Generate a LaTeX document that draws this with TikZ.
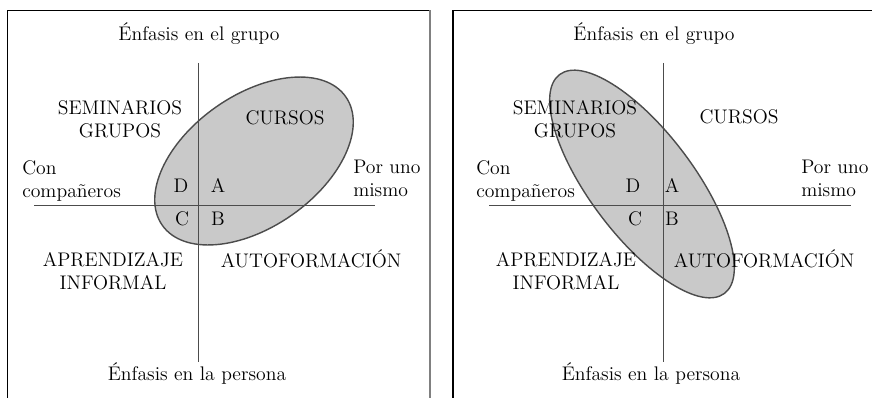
\documentclass[tikz,border=0pt]{standalone}
\usepackage{fontspec}
\usetikzlibrary{positioning}
\definecolor{ejes}{gray}{0.3}
\definecolor{relleno}{gray}{0.79}

\begin{document}
\begin{tikzpicture}[x=0.25mm,y=-0.25mm,
        every node/.style={font=\fontsize{14}{16.4}\selectfont, inner sep=0pt, text=black},
        eje/.style={draw=ejes, line width=0.7pt},
        zona/.style={draw=ejes, fill=relleno, line width=1pt}]
        \useasboundingbox (0,0) rectangle (872,398);
        % marcos
        \draw[line width=0.8pt] (7.5,398) -- (7.5,10.5) -- (430,10.5);
        \draw[gray, line width=1.4pt] (430,10.5) -- (430,398);
        \draw[line width=0.8pt] (453,398) -- (453,10.5) -- (872,10.5);

        % primer cuadro
        \draw[zona] (254,161) ellipse [x radius=112, y radius=66, rotate=35];
        \coordinate (norte1) at (198,63);  \coordinate (sur1) at (198,362);
        \coordinate (oeste1) at (34,205);  \coordinate (este1) at (375,205);
        \draw[eje] (norte1) -- (sur1);
        \draw[eje] (oeste1) -- (este1);
        \node[anchor=base] (grupo1) at (199,41) {Énfasis en el grupo};
        \node[align=center] (semi1) at (120,119) {SEMINARIOS\\GRUPOS};
        \node (cursos1) at (285,118) {CURSOS};
        \node[align=left, anchor=west] (con1) at (22,181) {Con\\compañeros};
        \node[align=left, anchor=west] (por1) at (353,178) {Por uno\\mismo};
        \node[anchor=base] (d1) at (181,192) {D};
        \node[anchor=base] (a1) at (218,192) {A};
        \node[anchor=base] (c1) at (182,225) {C};
        \node[anchor=base] (b1) at (218,225) {B};
        \node[align=center] (apre1) at (113,271) {APRENDIZAJE\\INFORMAL};
        \node[anchor=base] (auto1) at (311,267) {AUTOFORMACIÓN};
        \node[anchor=base] (persona1) at (197,380) {Énfasis en la persona};

        % segundo cuadro
        \draw[zona] (642,184) ellipse [x radius=137, y radius=52, rotate=-53];
        \coordinate (norte2) at (663,63);  \coordinate (sur2) at (663,362);
        \coordinate (oeste2) at (489,205); \coordinate (este2) at (851,205);
        \draw[eje] (norte2) -- (sur2);
        \draw[eje] (oeste2) -- (este2);
        \node[anchor=base] (grupo2) at (654,41) {Énfasis en el grupo};
        \node[align=center] (semi2) at (575,119) {SEMINARIOS\\GRUPOS};
        \node (cursos2) at (739,117) {CURSOS};
        \node[align=left, anchor=west] (con2) at (476,181) {Con\\compañeros};
        \node[align=left, anchor=west] (por2) at (801,178) {Por uno\\mismo};
        \node[anchor=base] (d2) at (633,192) {D};
        \node[anchor=base] (a2) at (672,192) {A};
        \node[anchor=base] (c2) at (635,225) {C};
        \node[anchor=base] (b2) at (672,225) {B};
        \node[align=center] (apre2) at (566,271) {APRENDIZAJE\\INFORMAL};
        \node[anchor=base] (auto2) at (764,267) {AUTOFORMACIÓN};
        \node[anchor=base] (persona2) at (651,380) {Énfasis en la persona};
\end{tikzpicture}
\end{document}
